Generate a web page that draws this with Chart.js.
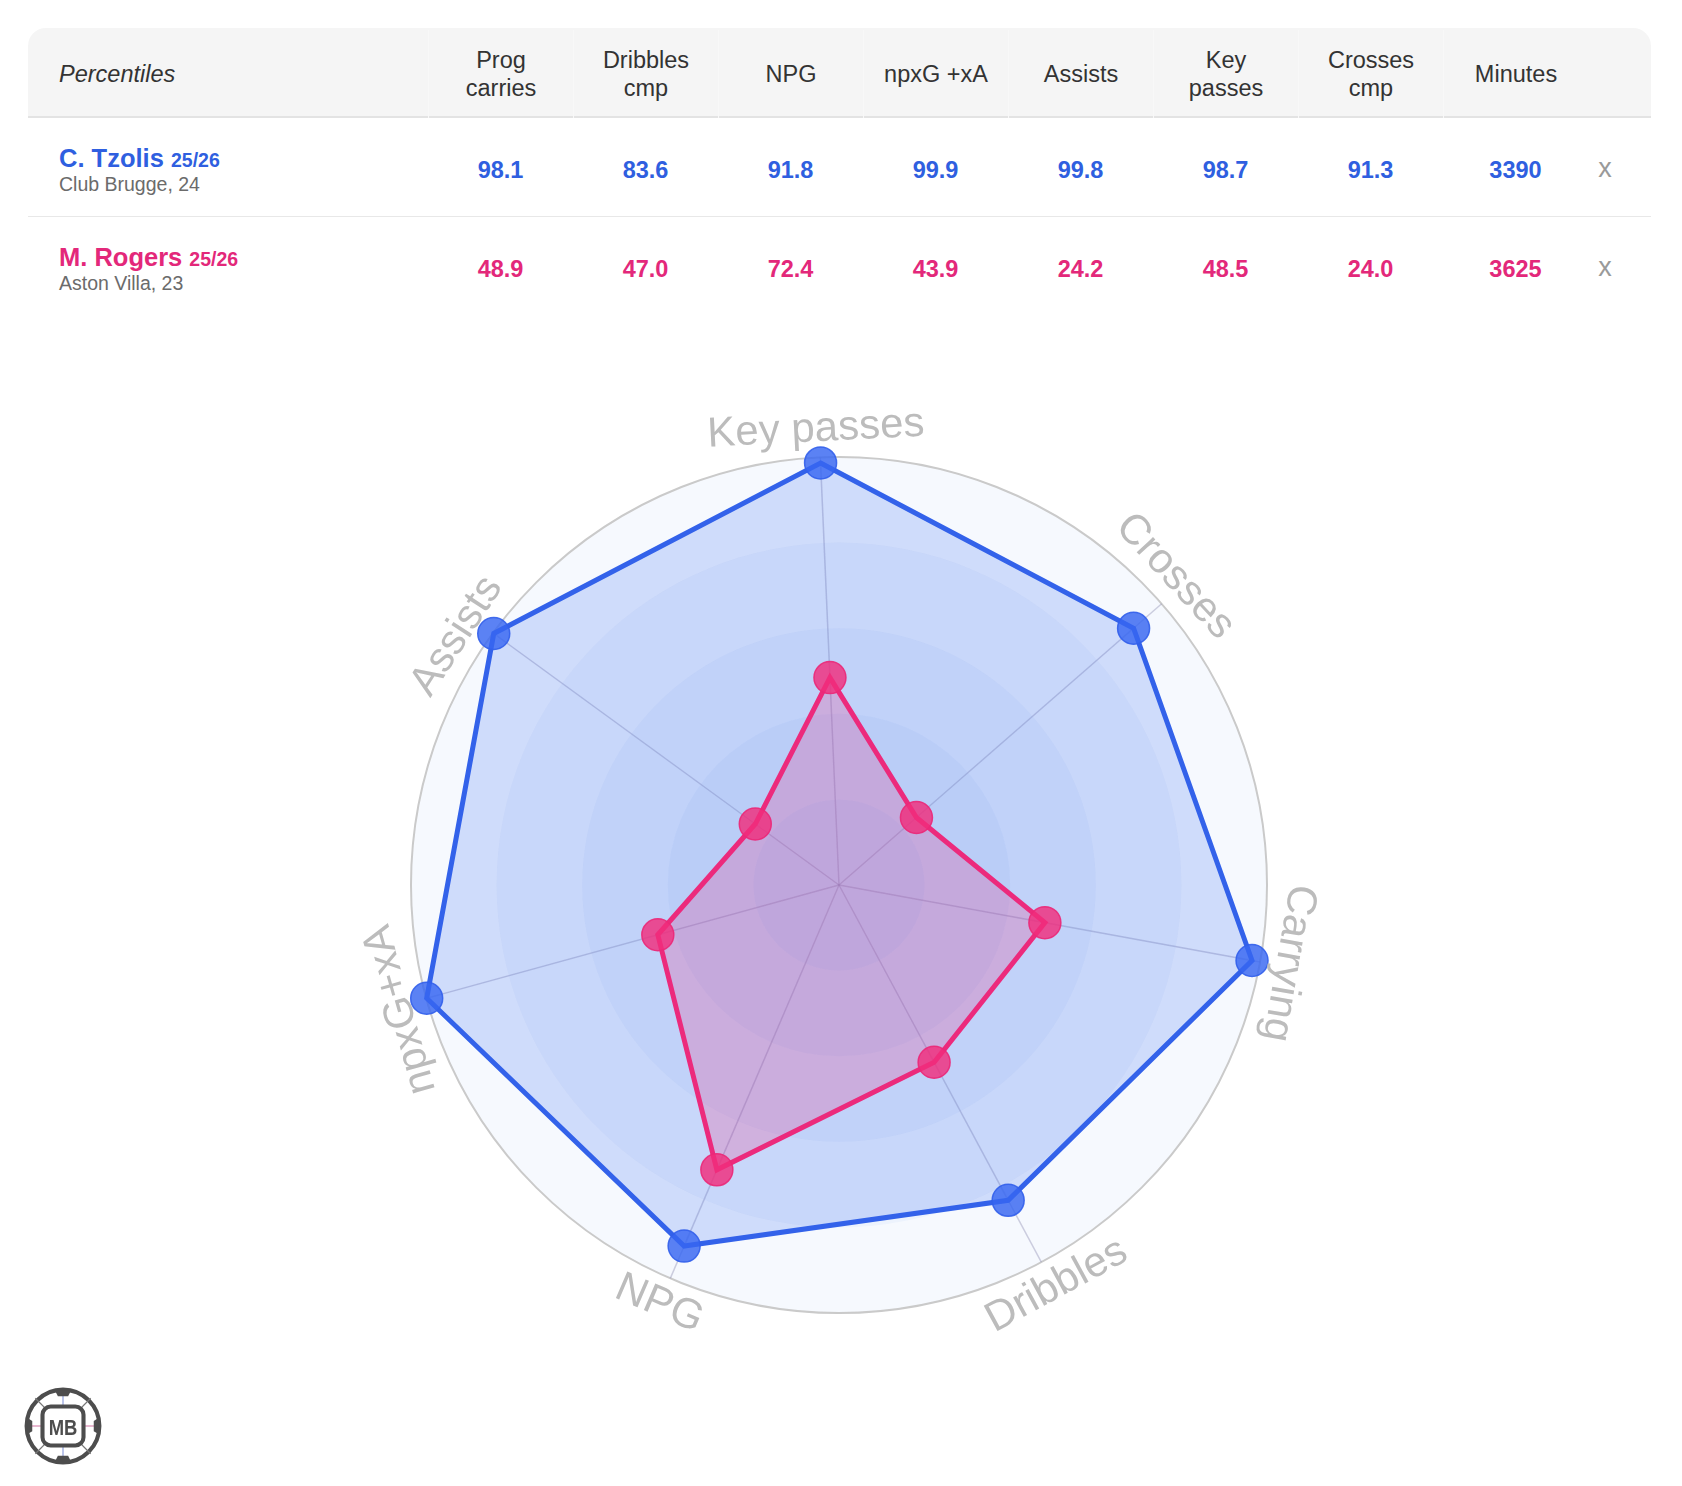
<!DOCTYPE html>
<html>
<head>
<meta charset="utf-8">
<script src="https://cdn.jsdelivr.net/npm/chart.js@4.4.1/dist/chart.umd.min.js"></script>
<style>
html,body{margin:0;padding:0;background:#fff;}
body{width:1682px;height:1486px;position:relative;overflow:hidden;font-family:"Liberation Sans",Arial,Helvetica,sans-serif;}
#chartWrap{position:absolute;left:0;top:330px;width:1682px;height:1156px;}
#tbl{position:absolute;left:28px;top:28px;width:1623px;height:290px;}
.hdr{position:absolute;left:0;top:0;width:1623px;height:88px;background:#f5f5f5;border-radius:18px 18px 0 0;border-bottom:2px solid #e3e3e3;}
.hcell{position:absolute;top:2px;height:88px;display:flex;align-items:center;justify-content:center;text-align:center;font-size:23.5px;line-height:28px;color:#333;box-sizing:border-box;}
.hsep{border-left:1px solid #f8f8f8;}
.pct{justify-content:flex-start;font-style:italic;}
.row{position:absolute;left:0;width:1623px;}
.row1{top:90px;height:98px;border-bottom:1px solid #e8e8e8;}
.row2{top:189px;height:100px;}
.name{position:absolute;left:31px;white-space:nowrap;}
.nm{font-weight:bold;font-size:25.5px;line-height:28px;}
.season{font-weight:bold;font-size:19.5px;}
.sub{font-size:19.5px;line-height:21px;color:#6b6b6b;}
.num{position:absolute;width:145px;text-align:center;font-weight:bold;font-size:23.5px;line-height:28px;}
.xx{position:absolute;width:60px;text-align:center;font-size:27px;line-height:28px;color:#9a9a9a;}
#logo{position:absolute;left:22px;top:1385px;width:82px;height:82px;}
</style>
</head>
<body>
<div id="tbl"></div>
<div id="chartWrap"><canvas id="radar"></canvas></div>
<svg id="logo" viewBox="0 0 80 80">
  <circle cx="40" cy="40" r="35.5" fill="#fff" stroke="#4d4d4d" stroke-width="4"/>
  <line x1="40" y1="6" x2="40" y2="74" stroke="#9aa8e0" stroke-width="1.3"/>
  <line x1="6" y1="40" x2="74" y2="40" stroke="#e0a0c0" stroke-width="1.3"/>
  <line x1="24" y1="24" x2="13" y2="13" stroke="#777" stroke-width="1.3"/>
  <line x1="56" y1="24" x2="67" y2="13" stroke="#777" stroke-width="1.3"/>
  <line x1="24" y1="56" x2="13" y2="67" stroke="#777" stroke-width="1.3"/>
  <line x1="56" y1="56" x2="67" y2="67" stroke="#777" stroke-width="1.3"/>
  <path d="M32 5 L48 5 L45 11 L35 11 Z" fill="#4d4d4d"/>
  <path d="M32 75 L48 75 L45 69 L35 69 Z" fill="#4d4d4d"/>
  <path d="M5 32 L5 48 L10 45 L10 35 Z" fill="#4d4d4d"/>
  <path d="M75 32 L75 48 L70 45 L70 35 Z" fill="#4d4d4d"/>
  <rect x="20" y="21" width="40" height="38" rx="8" fill="#fff" stroke="#4d4d4d" stroke-width="4"/>
  <text x="40" y="48.5" text-anchor="middle" font-family="Liberation Sans, Arial, sans-serif" font-weight="bold" font-size="21" fill="#4d4d4d" textLength="28" lengthAdjust="spacingAndGlyphs">MB</text>
</svg>
<script>
// ---------- data ----------
const tableColumns = ["Prog\ncarries", "Dribbles\ncmp", "NPG", "npxG +xA", "Assists", "Key\npasses", "Crosses\ncmp", "Minutes"];
const tzolisValues = [98.1, 83.6, 91.8, 99.9, 99.8, 98.7, 91.3];
const tzolisMinutes = 3390;
const rogersValues = [48.9, 47.0, 72.4, 43.9, 24.2, 48.5, 24.0];
const rogersMinutes = 3625;
const radarLabels = ["Key passes", "Crosses", "Carrying", "Dribbles", "NPG", "npxG+xA", "Assists"];
const radarSourceColumn = [5, 6, 0, 1, 2, 3, 4];
const bandValues = [20, 40, 60, 80, 100];
const labelNudgeDeg = [-0.4, -1.5, -0.5, -0.3, 0, -0.5, -3];

const players = [
  {name: "C. Tzolis", season: "25/26", sub: "Club Brugge, 24", values: tzolisValues, minutes: tzolisMinutes, color: "#2f5fe0"},
  {name: "M. Rogers", season: "25/26", sub: "Aston Villa, 23", values: rogersValues, minutes: rogersMinutes, color: "#e3287a"}
];

// ---------- table ----------
const tbl = document.getElementById('tbl');
const hdr = document.createElement('div'); hdr.className = 'hdr'; tbl.appendChild(hdr);
const pc = document.createElement('div'); pc.className = 'hcell pct';
pc.style.left = '31px'; pc.style.width = '360px'; pc.textContent = 'Percentiles'; hdr.appendChild(pc);
tableColumns.forEach((c, i) => {
  const d = document.createElement('div');
  d.className = 'hcell hsep';
  d.style.left = (400 + i * 145) + 'px'; d.style.width = '145px';
  d.innerHTML = c.split('\n').join('<br>');
  hdr.appendChild(d);
});
players.forEach((p, r) => {
  const row = document.createElement('div');
  row.className = 'row ' + (r === 0 ? 'row1' : 'row2');
  tbl.appendChild(row);
  const nm = document.createElement('div'); nm.className = 'name';
  nm.style.top = '26px';
  nm.innerHTML = '<div class="nm" style="color:' + p.color + '">' + p.name + ' <span class="season">' + p.season + '</span></div><div class="sub">' + p.sub + '</div>';
  row.appendChild(nm);
  const cells = p.values.map(v => v.toFixed(1)).concat([String(p.minutes)]);
  cells.forEach((t, i) => {
    const n = document.createElement('div'); n.className = 'num';
    n.style.left = (400 + i * 145) + 'px';
    n.style.top = '38px';
    n.style.color = p.color; n.textContent = t;
    row.appendChild(n);
  });
  const x = document.createElement('div'); x.className = 'xx';
  x.style.left = '1547px'; x.style.top = '36px'; x.textContent = 'x';
  row.appendChild(x);
});

// ---------- radar ----------
const bandPlugin = {
  id: 'bands',
  beforeDraw(chart) {
    const s = chart.scales.r, c = chart.ctx;
    c.save();
    for (let k = bandValues.length - 1; k >= 0; k--) {
      c.beginPath();
      c.arc(s.xCenter, s.yCenter, s.getDistanceFromCenterForValue(bandValues[k]), 0, Math.PI * 2);
      c.fillStyle = 'rgba(45,115,230,0.042)';
      c.fill();
    }
    c.beginPath();
    c.arc(s.xCenter, s.yCenter, s.getDistanceFromCenterForValue(100), 0, Math.PI * 2);
    c.strokeStyle = '#cacaca'; c.lineWidth = 2; c.stroke();
    c.restore();
  }
};
const labelPlugin = {
  id: 'rotLabels',
  afterDraw(chart) {
    const s = chart.scales.r, c = chart.ctx;
    const dist = s.drawingArea + 28;
    c.save();
    c.font = '42px "Liberation Sans", Arial, sans-serif';
    c.fillStyle = '#bcbcbc';
    c.textAlign = 'center'; c.textBaseline = 'middle';
    radarLabels.forEach((lab, i) => {
      const a = s.getIndexAngle(i) + labelNudgeDeg[i] * Math.PI / 180;
      const px = s.xCenter + Math.sin(a) * dist;
      const py = s.yCenter - Math.cos(a) * dist;
      let deg = (a * 180 / Math.PI) % 360; if (deg < 0) deg += 360;
      const rot = (deg > 110 && deg < 250) ? a - Math.PI : a;
      c.save(); c.translate(px, py); c.rotate(rot); c.fillText(lab, 0, 0); c.restore();
    });
    c.restore();
  }
};

new Chart(document.getElementById('radar'), {
  type: 'radar',
  data: {
    labels: radarLabels,
    datasets: [
      {
        label: players[0].name,
        data: radarSourceColumn.map(j => tzolisValues[j]),
        order: 2,
        borderColor: '#3362ea', borderWidth: 5,
        backgroundColor: 'rgba(52,98,236,0.2)', fill: true,
        pointRadius: 16, pointHoverRadius: 16, pointBorderWidth: 1.5,
        pointBackgroundColor: 'rgba(55,102,242,0.82)', pointBorderColor: 'rgba(50,95,235,0.9)'
      },
      {
        label: players[1].name,
        data: radarSourceColumn.map(j => rogersValues[j]),
        order: 1,
        borderColor: '#ec2a7c', borderWidth: 5,
        backgroundColor: 'rgba(236,42,124,0.22)', fill: true,
        pointRadius: 16, pointHoverRadius: 16, pointBorderWidth: 1.5,
        pointBackgroundColor: 'rgba(240,45,125,0.82)', pointBorderColor: 'rgba(235,40,120,0.9)'
      }
    ]
  },
  options: {
    responsive: true, maintainAspectRatio: false, animation: false,
    layout: {padding: {left: 411, right: 415, top: 127, bottom: 173}},
    plugins: {legend: {display: false}, tooltip: {enabled: false}},
    elements: {line: {tension: 0}},
    scales: {
      r: {
        min: 0, max: 100, startAngle: -2.5,
        ticks: {display: false, stepSize: 20},
        grid: {display: false},
        angleLines: {display: true, color: 'rgba(150,150,185,0.45)', lineWidth: 1.5},
        pointLabels: {display: false}
      }
    }
  },
  plugins: [bandPlugin, labelPlugin]
});
</script>
</body>
</html>
